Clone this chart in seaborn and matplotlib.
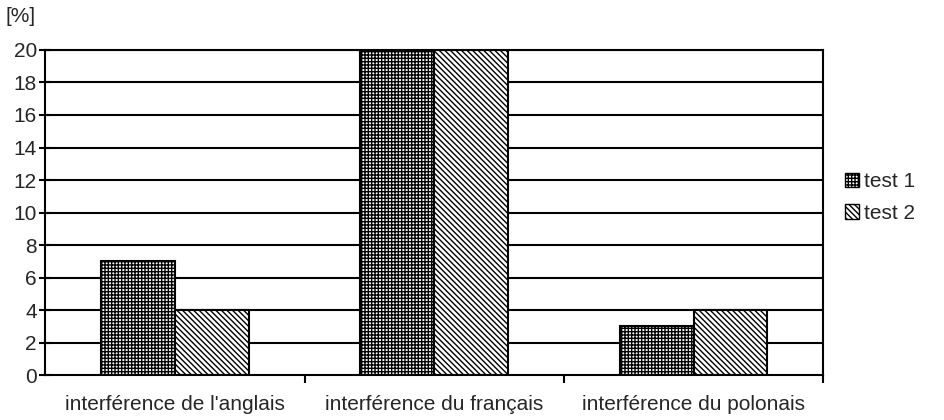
import numpy as np
import pandas as pd
import matplotlib
matplotlib.use('Agg')
import matplotlib.pyplot as plt
import seaborn as sns
from matplotlib.patches import Patch

categories = ["interférence de l'anglais", "interférence du français", "interférence du polonais"]
test1 = [7, 20, 3]
test2 = [4, 20, 4]
series = ['test 1', 'test 2']
hatches = ['+++++', '\\\\\\\\\\\\']

df = pd.DataFrame({
    'cat': categories * 2,
    'val': test1 + test2,
    'test': [series[0]] * 3 + [series[1]] * 3,
})

sns.set_style('white')
plt.rcParams['font.family'] = ['Liberation Sans', 'DejaVu Sans']
plt.rcParams['hatch.linewidth'] = 1.0
fs = 15

fig = plt.figure(figsize=(9.44, 4.2), dpi=100)
ax = fig.add_axes([0.048, 0.107, 0.824, 0.774])

for y in np.arange(2, 21, 2):
    ax.axhline(y, color='black', lw=1.5, zorder=0)

sns.barplot(data=df, x='cat', y='val', hue='test', palette=['white', 'white'],
            edgecolor='black', linewidth=1.5, width=0.57, legend=False, ax=ax, zorder=2)
for cont, h in zip(ax.containers, hatches):
    for p in cont:
        p.set_hatch(h)

ax.set_xlim(-0.5, 2.5)
ax.set_ylim(0, 20)
ax.set_yticks(np.arange(0, 21, 2))
ax.set_xlabel('')
ax.set_ylabel('')
ax.set_xticks([0, 1, 2])
ax.set_xticklabels(categories, fontsize=fs)
ax.set_xticks([0.5, 1.5, 2.5], minor=True)
ax.tick_params(axis='x', which='major', length=0, pad=14)
ax.tick_params(axis='x', which='minor', length=6, width=1.5, color='black', direction='out', bottom=True)
ax.tick_params(axis='y', length=8, width=1.5, color='black', direction='inout', left=True,
               labelsize=fs, pad=2)
for s in ax.spines.values():
    s.set_color('black')
    s.set_linewidth(1.5)

fig.text(0.006, 0.96, '[%]', fontsize=fs, ha='left', va='center')

handles = [Patch(facecolor='white', edgecolor='black', hatch=h, label=l) for h, l in zip(hatches, series)]
fig.legend(handles=handles, loc='center left', bbox_to_anchor=(0.875, 0.53), frameon=False,
           fontsize=fs, handlelength=0.7, handleheight=0.7, handletextpad=0.2, labelspacing=0.6)

fig.savefig('out.png', dpi=100)
